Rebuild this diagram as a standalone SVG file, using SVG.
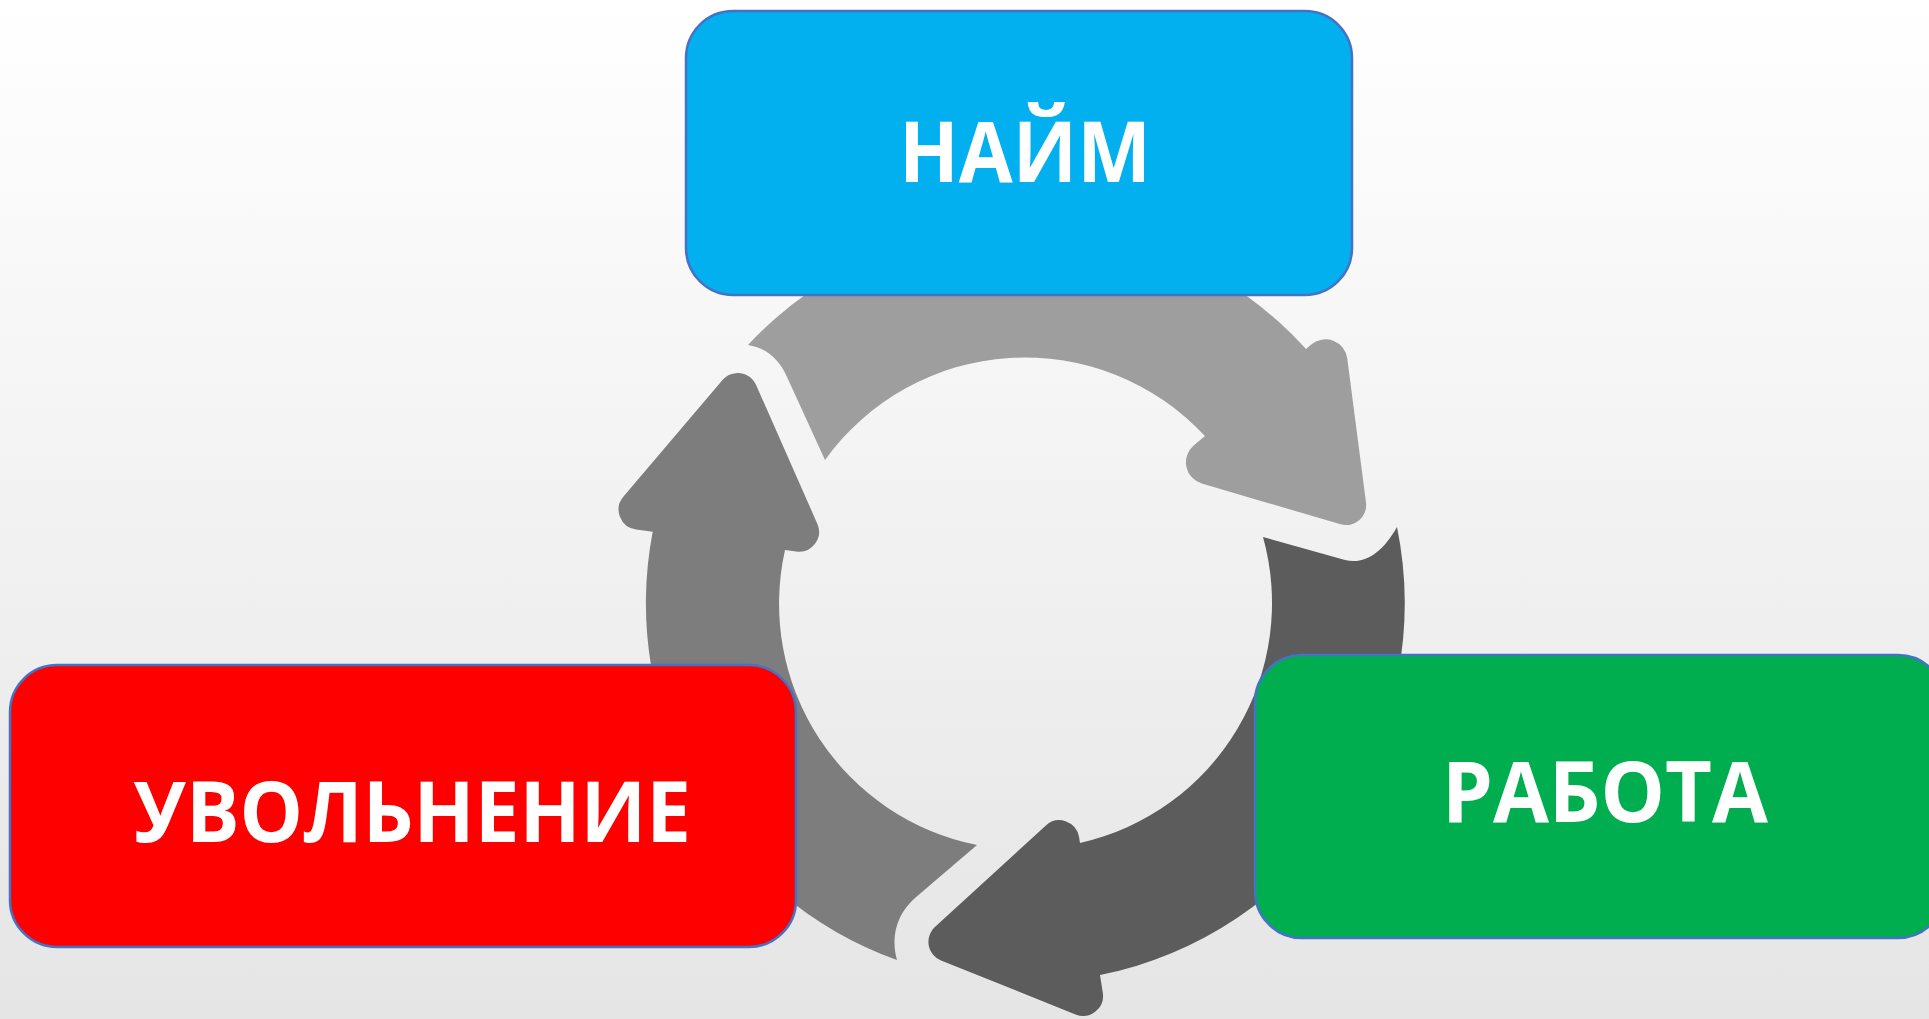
<svg xmlns="http://www.w3.org/2000/svg" width="1929" height="1019" viewBox="0 0 1929 1019">
  <defs>
    <linearGradient id="bg" x1="0" y1="0" x2="0" y2="1">
      <stop offset="0" stop-color="#ffffff"/>
      <stop offset="1" stop-color="#e5e5e5"/>
    </linearGradient>
    <style>
      .box { stroke: #4472c4; stroke-width: 2.5; }
      .label { font-family: "Open Sans", "Noto Sans", "Liberation Sans", sans-serif; font-weight: 700; font-size: 85px; fill: #ffffff; text-anchor: middle; }
    </style>
  </defs>
  <rect x="0" y="0" width="1929" height="1019" fill="url(#bg)"/>

  <g id="connectors">
    <path id="arrow-hire-to-work" fill="#9e9e9e" d="M 748,345 A 379,379 0 0 1 1306,349 L 1310.9,344.8 A 22,22 0 0 1 1347.3,358.7 L 1366,502.5 A 20,20 0 0 1 1340.6,524.3 L 1201.8,483.5 A 22,22 0 0 1 1193.7,445.6 L 1205,436 A 246,246 0 0 0 825,460 L 787,377 C 778,357 765,348 748,345 Z"/>
    <path id="arrow-work-to-fire" fill="#5c5c5c" d="M 1397,527 A 379,379 0 0 1 1100,975 L 1102.8,992.8 A 20,20 0 0 1 1075.5,1014.4 L 941,960.4 A 20,20 0 0 1 934.9,927.1 L 1045.9,825.4 A 20,20 0 0 1 1079.1,837.2 L 1080,843 A 246,246 0 0 0 1263,537 L 1345,560 C 1365,565 1383,552 1397,527 Z"/>
    <path id="arrow-fire-to-hire" fill="#7d7d7d" d="M 897,960 A 379,379 0 0 1 652.7,531.7 L 636.1,529.4 A 20,20 0 0 1 623.5,496.5 L 722.5,380.1 A 20,20 0 0 1 756.1,385 L 817.3,523.7 A 20,20 0 0 1 796.3,551.6 L 785,550 A 246,246 0 0 0 977,845 L 915,898 C 898,913 890,935 897,960 Z"/>
  </g>

  <g id="node-hire">
    <rect class="box" x="686" y="11" width="666" height="284" rx="47" ry="47" fill="#02b0f0"/>
    <text class="label" x="1025" y="182" textLength="252" lengthAdjust="spacingAndGlyphs">НАЙМ</text>
  </g>

  <g id="node-work">
    <rect class="box" x="1255" y="655" width="690" height="283" rx="47" ry="47" fill="#00ae50"/>
    <text class="label" x="1605" y="822" textLength="326" lengthAdjust="spacingAndGlyphs">РАБОТА</text>
  </g>

  <g id="node-fire">
    <rect class="box" x="10" y="665" width="786" height="282" rx="47" ry="47" fill="#ff0000"/>
    <text class="label" x="412" y="842" textLength="558" lengthAdjust="spacingAndGlyphs">УВОЛЬНЕНИЕ</text>
  </g>
</svg>
